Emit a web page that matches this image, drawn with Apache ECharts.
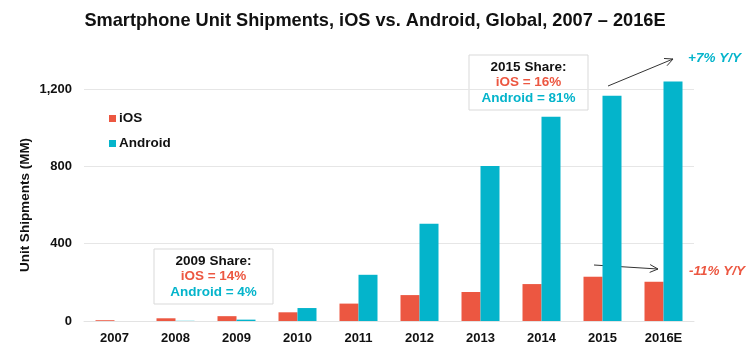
<!DOCTYPE html>
<html>
<head>
<meta charset="utf-8">
<script src="https://cdn.jsdelivr.net/npm/echarts@6/dist/echarts.min.js"></script>
<style>
  html, body { margin: 0; padding: 0; background: #fff; }
  #chart { width: 750px; height: 352px; }
</style>
</head>
<body>
<div id="chart"></div>
<script>
const years = ['2007', '2008', '2009', '2010', '2011', '2012', '2013', '2014', '2015', '2016E']
const iosUnits = [4, 14, 25, 45, 90, 134, 150, 191, 229, 203]
const androidUnits = [0, 1, 7, 67, 239, 503, 802, 1057, 1165, 1239]
const yMax = 1200
const yStep = 400

const FONT = '"Liberation Sans", Arial, sans-serif'
const IOS_COLOR = '#ec5741'
const ANDROID_COLOR = '#04b4cb'
const INK = '#111'

// open arrow: shaft + chevron head
function arrow(x1, y1, x2, y2) {
  const ang = Math.atan2(y2 - y1, x2 - x1)
  const len = 9
  const spread = 0.45
  const p1 = [x2 - len * Math.cos(ang - spread), y2 - len * Math.sin(ang - spread)]
  const p2 = [x2 - len * Math.cos(ang + spread), y2 - len * Math.sin(ang + spread)]
  const style = { stroke: '#333', lineWidth: 1, fill: null }
  return [
    { type: 'line', shape: { x1, y1, x2, y2 }, style },
    { type: 'polyline', shape: { points: [p1, [x2, y2], p2] }, style }
  ]
}

function shareBox(x, y, year, ios, android) {
  return {
    type: 'group',
    x,
    y,
    children: [
      {
        type: 'rect',
        shape: { x: 0, y: 0, width: 119, height: 55 },
        style: { fill: '#fff', stroke: '#d9d9d9', lineWidth: 1 }
      },
      {
        type: 'text',
        x: 59.5,
        y: 27.5,
        style: {
          text: `{h|${year} Share:}\n{i|iOS = ${ios}%}\n{a|Android = ${android}%}`,
          align: 'center',
          verticalAlign: 'middle',
          font: `bold 13.5px ${FONT}`,
          rich: {
            h: { fill: INK, font: `bold 13.5px ${FONT}`, lineHeight: 15.5 },
            i: { fill: IOS_COLOR, font: `bold 13.5px ${FONT}`, lineHeight: 15.5 },
            a: { fill: ANDROID_COLOR, font: `bold 13.5px ${FONT}`, lineHeight: 15.5 }
          }
        }
      }
    ]
  }
}

const chart = echarts.init(document.getElementById('chart'), null, { renderer: 'canvas' })

chart.setOption({
  animation: false,
  textStyle: { fontFamily: FONT },
  title: {
    text: 'Smartphone Unit Shipments, iOS vs. Android, Global, 2007 – 2016E',
    left: 'center',
    top: 7,
    textStyle: { fontFamily: FONT, fontSize: 18.2, fontWeight: 'bold', color: INK }
  },
  legend: {
    orient: 'vertical',
    left: 104,
    top: 106,
    itemWidth: 7,
    itemHeight: 7,
    itemGap: 10,
    icon: 'rect',
    textStyle: { fontFamily: FONT, fontSize: 13.5, fontWeight: 'bold', color: INK, lineHeight: 15, padding: [0, 0, 0, -2] },
    data: ['iOS', 'Android']
  },
  grid: { left: 84, right: 56, top: 89, bottom: 31, outerBoundsMode: 'none' },
  xAxis: {
    type: 'category',
    data: years,
    axisLine: { lineStyle: { color: '#e3e3e3' } },
    axisTick: { show: false },
    axisLabel: { color: INK, fontFamily: FONT, fontSize: 13, fontWeight: 'bold', margin: 11 }
  },
  yAxis: {
    type: 'value',
    min: 0,
    max: yMax,
    interval: yStep,
    name: 'Unit Shipments (MM)',
    nameLocation: 'middle',
    nameGap: 52,
    nameMoveOverlap: false,
    nameTextStyle: { color: INK, fontFamily: FONT, fontSize: 13.5, fontWeight: 'bold' },
    axisLine: { show: false },
    axisTick: { show: false },
    axisLabel: {
      color: INK,
      fontFamily: FONT,
      fontSize: 13,
      fontWeight: 'bold',
      margin: 12,
      formatter: (v) => v.toLocaleString('en-US')
    },
    splitLine: { lineStyle: { color: '#e6e6e6' } }
  },
  series: [
    {
      name: 'iOS',
      type: 'bar',
      data: iosUnits,
      barWidth: 19,
      barGap: '0%',
      clip: false,
      itemStyle: { color: IOS_COLOR }
    },
    {
      name: 'Android',
      type: 'bar',
      data: androidUnits,
      barWidth: 19,
      clip: false,
      itemStyle: { color: ANDROID_COLOR }
    }
  ],
  graphic: [
    shareBox(154, 249, 2009, 14, 4),
    shareBox(469, 55, 2015, 16, 81),
    ...arrow(608, 86, 673, 59),
    ...arrow(594, 265, 658, 269),
    {
      type: 'text',
      x: 688,
      y: 58,
      style: {
        text: '+7% Y/Y',
        fill: ANDROID_COLOR,
        font: `italic bold 13.5px ${FONT}`,
        verticalAlign: 'middle'
      }
    },
    {
      type: 'text',
      x: 689,
      y: 271,
      style: {
        text: '-11% Y/Y',
        fill: IOS_COLOR,
        font: `italic bold 13.5px ${FONT}`,
        verticalAlign: 'middle'
      }
    }
  ]
})
</script>
</body>
</html>
